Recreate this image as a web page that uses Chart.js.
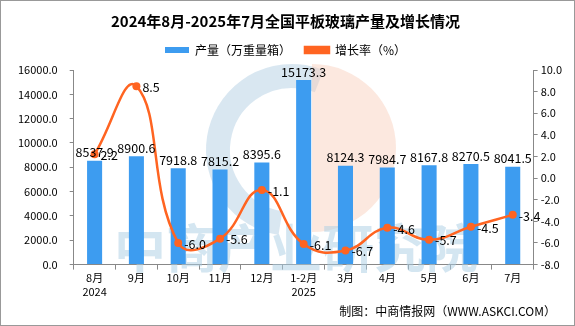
<!DOCTYPE html>
<html>
<head>
<meta charset="utf-8">
<script src="https://cdn.jsdelivr.net/npm/chart.js@4.4.1/dist/chart.umd.min.js"></script>
<style>
  html, body { margin: 0; padding: 0; background: #fff; }
  canvas { display: block; }
</style>
</head>
<body>
<canvas id="chart" width="575" height="326"></canvas>
<script>
// 数据
const categories = [['8月', '2024'], '9月', '10月', '11月', '12月', ['1-2月', '2025'], '3月', '4月', '5月', '6月', '7月'];
const production = [8537.9, 8900.6, 7918.8, 7815.2, 8395.6, 15173.3, 8124.3, 7984.7, 8167.8, 8270.5, 8041.5];
const growth = [2.2, 8.5, -6.0, -5.6, -1.1, -6.1, -6.7, -4.6, -5.7, -4.5, -3.4];
const leftTicks = [0, 16000, 2000];
const rightTicks = [-8, 10, 2];

const FONT = '"Noto Sans CJK SC", "DejaVu Sans", sans-serif';
const BAR_COLOR = '#3d9cf0';
const LINE_COLOR = '#ff6421';

// 图例下方多留一点空
const legendGap = {
  id: 'legendGap',
  beforeInit(chart) {
    const fit = chart.legend.fit;
    chart.legend.fit = function () {
      fit.bind(this)();
      this.height += 4;
    };
  }
};

// 水印
const watermark = {
  id: 'watermark',
  beforeDatasetsDraw(chart) {
    const ctx = chart.ctx;
    ctx.save();
    ctx.beginPath();
    ctx.arc(292, 150, 74, Math.PI * 0.55, Math.PI * 1.62);
    ctx.lineWidth = 24;
    ctx.strokeStyle = 'rgba(185, 212, 230, 0.55)';
    ctx.stroke();
    ctx.beginPath();
    ctx.moveTo(312, 64);
    ctx.arc(312, 148, 84, -Math.PI / 2, Math.PI / 2);
    ctx.closePath();
    ctx.fillStyle = 'rgba(248, 205, 185, 0.45)';
    ctx.fill();
    ctx.fillStyle = 'rgba(170, 205, 228, 0.5)';
    ctx.font = 'bold 52px ' + FONT;
    ctx.textAlign = 'center';
    ctx.textBaseline = 'middle';
    ctx.fillText('中商产业研究院', 296, 248);
    ctx.restore();
  }
};

// 数据标签、来源和边框
const labels = {
  id: 'labels',
  afterDatasetsDraw(chart) {
    const ctx = chart.ctx;
    ctx.save();
    ctx.font = '12.5px ' + FONT;
    ctx.fillStyle = '#000';
    ctx.textAlign = 'center';
    ctx.textBaseline = 'bottom';
    chart.getDatasetMeta(1).data.forEach((el, i) => {
      ctx.fillText(production[i].toFixed(1), el.x, el.y - 2);
    });
    ctx.textAlign = 'left';
    ctx.textBaseline = 'middle';
    chart.getDatasetMeta(0).data.forEach((el, i) => {
      ctx.fillText(growth[i].toFixed(1), el.x + 6, el.y + 1);
    });
    ctx.font = '12px ' + FONT;
    ctx.textAlign = 'right';
    ctx.fillText('制图：中商情报网（WWW.ASKCI.COM）', 556, 311);
    ctx.strokeStyle = '#999';
    ctx.lineWidth = 1;
    ctx.strokeRect(0.5, 0.5, 574, 325);
    ctx.restore();
  }
};

new Chart(document.getElementById('chart'), {
  data: {
    labels: categories,
    datasets: [
      {
        type: 'line',
        label: '增长率（%）',
        data: growth,
        yAxisID: 'y1',
        borderColor: LINE_COLOR,
        backgroundColor: LINE_COLOR,
        borderWidth: 2.5,
        tension: 0.45,
        pointRadius: 4,
        pointBackgroundColor: LINE_COLOR,
        pointBorderWidth: 0,
        order: 0
      },
      {
        type: 'bar',
        label: '产量（万重量箱）',
        data: production,
        yAxisID: 'y',
        backgroundColor: BAR_COLOR,
        barPercentage: 0.36,
        categoryPercentage: 1,
        order: 1
      }
    ]
  },
  options: {
    responsive: false,
    animation: false,
    devicePixelRatio: 1,
    layout: { padding: { left: 6, right: 10, top: 0, bottom: 26 } },
    plugins: {
      title: {
        display: true,
        text: '2024年8月-2025年7月全国平板玻璃产量及增长情况',
        font: { family: FONT, size: 15, weight: 'bold' },
        color: '#000',
        padding: { top: 12, bottom: 0 }
      },
      legend: {
        reverse: true,
        labels: {
          font: { family: FONT, size: 12 },
          color: '#000',
          boxWidth: 24,
          boxHeight: 6,
          padding: 14
        }
      },
      tooltip: { enabled: false }
    },
    scales: {
      x: {
        grid: { drawOnChartArea: false, offset: true, tickLength: 5, color: '#888' },
        border: { color: '#888' },
        ticks: { font: { family: FONT, size: 11 }, color: '#000', maxRotation: 0, autoSkip: false, padding: 2 }
      },
      y: {
        position: 'left',
        min: leftTicks[0], max: leftTicks[1],
        grid: { drawOnChartArea: false, tickLength: 4, color: '#888' },
        border: { color: '#888' },
        ticks: {
          stepSize: leftTicks[2], padding: 12,
          font: { family: FONT, size: 11 }, color: '#000',
          callback: v => v.toFixed(1)
        }
      },
      y1: {
        position: 'right',
        min: rightTicks[0], max: rightTicks[1],
        grid: { drawOnChartArea: false, tickLength: 4, color: '#888' },
        border: { color: '#888' },
        ticks: {
          stepSize: rightTicks[2], padding: 3,
          font: { family: FONT, size: 11 }, color: '#000',
          callback: v => v.toFixed(1)
        }
      }
    }
  },
  plugins: [legendGap, watermark, labels]
});
</script>
</body>
</html>
